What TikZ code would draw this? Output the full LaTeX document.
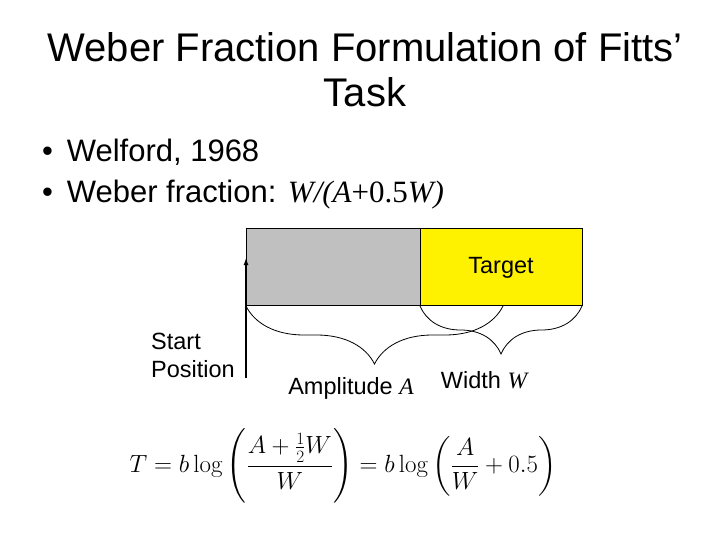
\documentclass[tikz,border=0pt]{standalone}
\usepackage{amsmath}
\usepackage[no-math]{fontspec}
\setmainfont{Liberation Sans}
\newfontfamily\tms{Liberation Serif}
\usetikzlibrary{decorations.pathreplacing,arrows.meta}
\begin{document}
\begin{tikzpicture}[x=1pt,y=-1pt,
  txt/.style={inner sep=0pt,font=\fontsize{23.5}{26}\selectfont},
  brc/.style={draw,decorate,line width=0.8pt}]
\useasboundingbox[fill=white] (0,0) rectangle (720,540);
\node[inner sep=0pt,align=center,font=\fontsize{40}{45}\selectfont] (title) at (365,70) {Weber Fraction Formulation of Fitts'\\Task};
\node[inner sep=0pt,anchor=west,font=\fontsize{31}{33}\selectfont] (b1) at (42,152) {\textbullet\ \,Welford, 1968};
\node[inner sep=0pt,anchor=west,font=\fontsize{31}{33}\selectfont] (b2) at (42,195) {\textbullet\ \,Weber fraction: {\tms\itshape W/(A}{\tms+0.5}{\tms\itshape W)}};
\node[draw,fill={rgb,255:red,192;green,192;blue,192},minimum width=174pt,minimum height=77pt,anchor=north west,inner sep=0pt] (amp) at (246,228) {};
\node[draw,fill=yellow,minimum width=162pt,minimum height=77pt,anchor=north west,inner sep=0pt] (tgt) at (420,228) {};
\node[txt] (tl) at (501,268) {Target};
\coordinate (as) at (246,378);
\coordinate (ae) at (246,258);
\draw[-{Latex[length=7pt,width=5pt]},line width=1.2pt] (as) -- (ae);
\coordinate (b1s) at (246,306);
\coordinate (b1e) at (503,306);
\coordinate (b2s) at (420,306);
\coordinate (b2e) at (582,306);
\draw[brc,decoration={brace,mirror,amplitude=58pt,aspect=0.5}] (b1s) -- (b1e);
\draw[brc,decoration={brace,mirror,amplitude=48pt,aspect=0.5}] (b2s) -- (b2e);
\node[txt,align=left,anchor=north west] (sp) at (151,333) {Start\\[2pt]Position};
\node[txt] (al) at (351,388) {Amplitude {\tms\itshape A}};
\node[txt] (wl) at (484,380) {Width {\tms\itshape W}};
\node[inner sep=0pt,font=\fontsize{27}{30}\selectfont] (eq) at (343,466) {$\displaystyle T = b\log\left(\frac{A+\frac{1}{2}W}{W}\right) = b\log\left(\frac{A}{W}+0.5\right)$};
\end{tikzpicture}
\end{document}
